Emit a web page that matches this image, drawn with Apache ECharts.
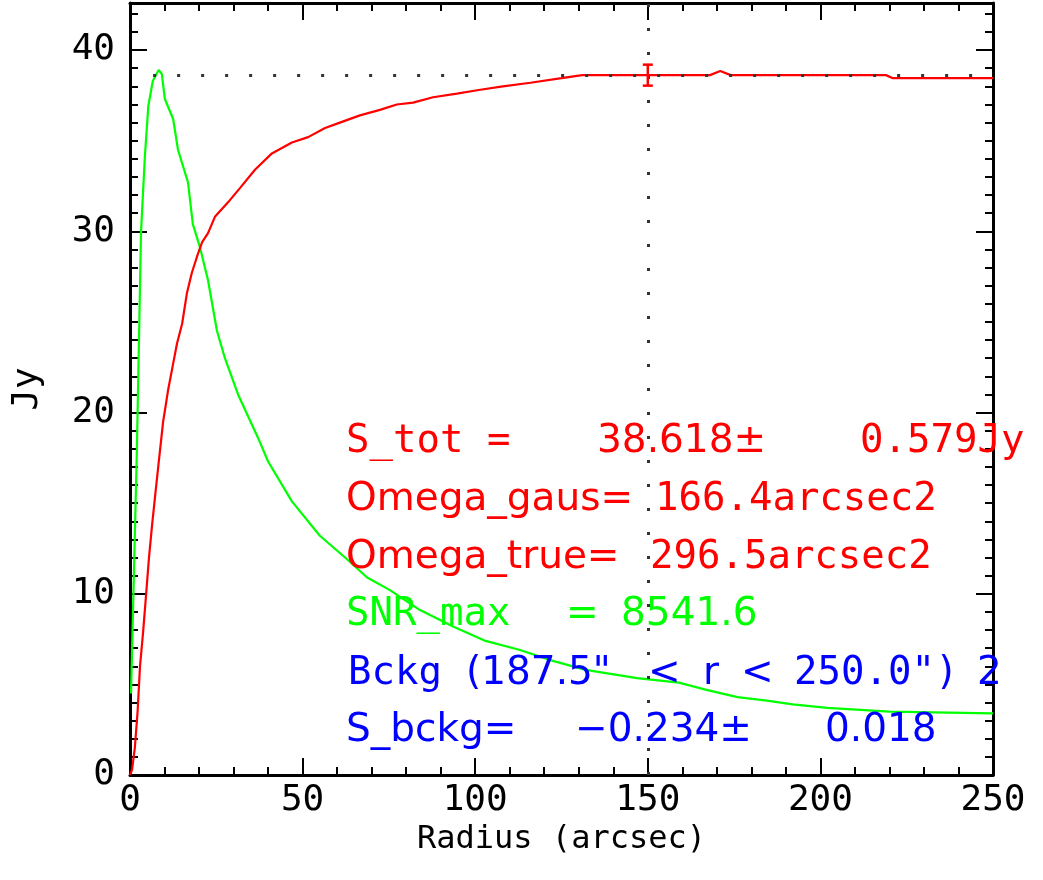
<!DOCTYPE html>
<html>
<head>
<meta charset="utf-8">
<script src="https://cdn.jsdelivr.net/npm/echarts@6/dist/echarts.min.js"></script>
<style>
html,body{margin:0;padding:0;background:#fff;}
#chart{width:1043px;height:880px;}
</style>
</head>
<body>
<div id="chart"></div>
<script>
// ---- data ----
const fluxRadius = [0, 0.6, 1.4, 2.2, 2.9, 3.8, 4.6, 5.5, 6.4, 7.5, 8.4, 9.6, 10.1, 11, 12.5, 13.6, 15.1, 16.5, 17.9, 19.4, 20.9, 22.6, 24.6, 28.4, 31.9, 36.2, 41.1, 46.9, 51.6, 56.5, 60.8, 66.6, 72.4, 77.3, 82, 87.8, 94.7, 101, 108, 116, 125, 131, 150, 168, 171, 174, 219, 221, 250];
const fluxValue  = [0, 0.3, 1.5, 3.5, 6.0, 7.9, 9.8, 12.0, 13.8, 15.8, 17.4, 19.5, 20.1, 21.2, 22.7, 23.8, 24.9, 26.6, 27.7, 28.6, 29.4, 29.9, 30.8, 31.6, 32.4, 33.4, 34.3, 34.9, 35.2, 35.7, 36.0, 36.4, 36.7, 37.0, 37.1, 37.4, 37.6, 37.8, 38.0, 38.2, 38.45, 38.62, 38.62, 38.62, 38.85, 38.62, 38.62, 38.45, 38.45];

const snrRadius = [0.3, 0.9, 2.0, 3.2, 4.3, 5.3, 6.6, 8.3, 9.2, 10.1, 12.5, 13.9, 16.8, 18.2, 20.3, 22.6, 25.2, 27.5, 31.3, 37.1, 40, 46.9, 55, 62.3, 68.7, 75.3, 84, 93.6, 103, 113, 122.5, 132, 146.9, 159, 167, 176, 184.5, 192, 202, 220, 250];
const snrValue  = [4.5, 9.3, 18.0, 30.0, 34.1, 36.9, 38.3, 38.9, 38.7, 37.3, 36.2, 34.5, 32.7, 30.4, 29.1, 27.3, 24.5, 23.0, 21.0, 18.6, 17.3, 15.1, 13.2, 12.0, 10.9, 10.2, 9.1, 8.2, 7.4, 6.9, 6.3, 5.8, 5.35, 5.1, 4.7, 4.3, 4.1, 3.9, 3.7, 3.5, 3.4];

const totalFlux = 38.618;
const totalFluxErr = 0.579;
const markRadius = 150;
const plateauStart = 6.7;

const xTicks = [0, 50, 100, 150, 200, 250];
const yTicks = [0, 10, 20, 30, 40];

// annotation texts (as printed in the reference)
const annotationTexts = [
  'S_tot =', '38.618±', '0.579Jy',
  'Omega_gaus=', '166.4arcsec2',
  'Omega_true=', '296.5arcsec2',
  'SNR_max', '=', '8541.6',
  'Bckg', '(187.5"', '<', 'r', '<', '250.0")', '2',
  'S_bckg=', '\u22120.234±', '0.018'
];

// layout for each text piece: [left x, center y, colour, font family key]
const annotationLayout = [
  [346, 442, '#ff0000', 'm'], [597, 442, '#ff0000', 's'], [860, 442, '#ff0000', 'm'],
  [346, 500, '#ff0000', 's'], [655, 500, '#ff0000', 'm'],
  [346, 558, '#ff0000', 's'], [650, 558, '#ff0000', 'm'],
  [346, 615, '#00ff00', 'm'], [566, 615, '#00ff00', 's'], [621, 615, '#00ff00', 's'],
  [348, 674, '#0000ff', 'm'], [466, 674, '#0000ff', 's'], [648, 674, '#0000ff', 's'], [703, 674, '#0000ff', 's'],
  [741, 674, '#0000ff', 's'], [794, 674, '#0000ff', 'm'], [977, 674, '#0000ff', 's'],
  [346, 731, '#0000ff', 's'], [575, 731, '#0000ff', 's'], [825, 731, '#0000ff', 's']
];

const fluxData = fluxRadius.map((r, i) => [r, fluxValue[i]]);
const snrData = snrRadius.map((r, i) => [r, snrValue[i]]);

const FONT = '"DejaVu Sans Mono", monospace';
const FONTS = { m: '"DejaVu Sans Mono", monospace', s: '"DejaVu Sans", sans-serif' };
const X_MIN = 0, X_MAX = 250, Y_MIN = 0, Y_MAX = 42.6;

const tickCommon = { show: true, inside: true, length: 17, lineStyle: { color: '#000', width: 2 } };
const minorCommon = { show: true, length: 8, lineStyle: { color: '#000', width: 2 } };

const chart = echarts.init(document.getElementById('chart'));
chart.setOption({
  animation: false,
  backgroundColor: '#fff',
  grid: { left: 130, right: 50, top: 3, bottom: 105, containLabel: false, outerBoundsMode: 'none' },
  xAxis: [
    {
      type: 'value', position: 'bottom', min: X_MIN, max: X_MAX, interval: 50,
      name: 'Radius (arcsec)', nameLocation: 'middle', nameGap: 44,
      nameTextStyle: { fontFamily: FONT, fontSize: 32, color: '#000' },
      axisLine: { show: true, onZero: false, lineStyle: { color: '#000', width: 3 } },
      axisTick: tickCommon,
      minorTick: Object.assign({ splitNumber: 5 }, minorCommon),
      axisLabel: { show: true, margin: 8, fontFamily: FONT, fontSize: 36, color: '#000',
                   formatter: v => xTicks.includes(v) ? String(v) : '' },
      splitLine: { show: false }
    },
    {
      type: 'value', position: 'top', min: X_MIN, max: X_MAX, interval: 50,
      axisLine: { show: true, onZero: false, lineStyle: { color: '#000', width: 3 } },
      axisTick: tickCommon,
      minorTick: Object.assign({ splitNumber: 5 }, minorCommon),
      axisLabel: { show: false },
      splitLine: { show: false }
    }
  ],
  yAxis: [
    {
      type: 'value', position: 'left', min: Y_MIN, max: Y_MAX, interval: 10,
      name: 'Jy', nameLocation: 'middle', nameGap: 84, nameRotate: 90,
      nameTextStyle: { fontFamily: FONT, fontSize: 36, color: '#000' },
      axisLine: { show: true, onZero: false, lineStyle: { color: '#000', width: 3 } },
      axisTick: tickCommon,
      minorTick: Object.assign({ splitNumber: 10 }, minorCommon),
      axisLabel: { show: true, margin: 15, fontFamily: FONT, fontSize: 36, color: '#000',
                   formatter: v => yTicks.includes(v) ? String(v) : '' },
      splitLine: { show: false }
    },
    {
      type: 'value', position: 'right', min: Y_MIN, max: Y_MAX, interval: 10,
      axisLine: { show: true, onZero: false, lineStyle: { color: '#000', width: 3 } },
      axisTick: tickCommon,
      minorTick: Object.assign({ splitNumber: 10 }, minorCommon),
      axisLabel: { show: false },
      splitLine: { show: false }
    }
  ],
  series: [
    {
      type: 'line', name: 'SNR', data: snrData, showSymbol: false, symbol: 'none',
      lineStyle: { color: '#00ff00', width: 2.2 }, itemStyle: { color: '#00ff00' },
      z: 3
    },
    {
      type: 'line', name: 'Flux', data: fluxData, showSymbol: false, symbol: 'none',
      lineStyle: { color: '#ff0000', width: 2.2 }, itemStyle: { color: '#ff0000' },
      z: 4,
      markLine: {
        silent: true, symbol: ['none', 'none'], label: { show: false },
        lineStyle: { color: '#333', width: 3, type: [3, 21] },
        data: [
          [{ coord: [plateauStart, totalFlux] }, { coord: [X_MAX, totalFlux] }],
          [{ coord: [markRadius, Y_MIN] }, { coord: [markRadius, Y_MAX] }]
        ]
      }
    },
    {
      type: 'custom', name: 'FluxErr', data: [[markRadius, totalFlux, totalFluxErr]], z: 5,
      renderItem: function (params, api) {
        const x = api.value(0), y = api.value(1), e = api.value(2);
        const top = api.coord([x, y + e]);
        const bot = api.coord([x, y - e]);
        const cap = 5;
        const st = { stroke: '#ff0000', lineWidth: 2.5 };
        return {
          type: 'group',
          children: [
            { type: 'line', shape: { x1: top[0], y1: top[1], x2: bot[0], y2: bot[1] }, style: st },
            { type: 'line', shape: { x1: top[0] - cap, y1: top[1], x2: top[0] + cap, y2: top[1] }, style: st },
            { type: 'line', shape: { x1: bot[0] - cap, y1: bot[1], x2: bot[0] + cap, y2: bot[1] }, style: st }
          ]
        };
      }
    }
  ],
  graphic: annotationTexts.map((t, i) => {
    const a = annotationLayout[i];
    return {
      type: 'text', x: a[0], y: a[1], z: 10,
      style: { text: t, fill: a[2], font: '39px ' + FONTS[a[3]], align: 'left', verticalAlign: 'middle' }
    };
  })
});
</script>
</body>
</html>
